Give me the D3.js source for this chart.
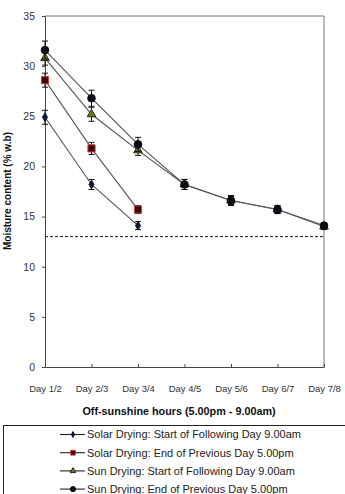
<!DOCTYPE html>
<html>
<head>
<meta charset="utf-8">
<script src="https://d3js.org/d3.v7.min.js"></script>
<style>
  body { margin: 0; background: #fff; }
  text { font-family: "Liberation Sans", Arial, sans-serif; }
</style>
</head>
<body>
<div id="chart"></div>
<script>
// Data
var categories = ["Day 1/2", "Day 2/3", "Day 3/4", "Day 4/5", "Day 5/6", "Day 6/7", "Day 7/8"];
var solarStart = [24.9, 18.2, 14.1];
var solarStartErr = [0.7, 0.5, 0.4];
var solarEnd = [28.6, 21.8, 15.7];
var solarEndErr = [0.7, 0.6, 0.4];
var sunStart = [30.8, 25.2, 21.6, 18.2, 16.6, 15.7, 14.0];
var sunStartErr = [0.7, 0.7, 0.5, 0.5, 0.4, 0.4, 0.3];
var sunEnd = [31.6, 26.8, 22.2, 18.2, 16.6, 15.7, 14.1];
var sunEndErr = [0.9, 0.8, 0.7, 0.5, 0.5, 0.4, 0.3];
var threshold = 13;
var yTicks = [0, 5, 10, 15, 20, 25, 30, 35];
var seriesNames = [
  "Solar Drying: Start of Following Day 9.00am",
  "Solar Drying: End of Previous Day 5.00pm",
  "Sun Drying: Start of Following Day 9.00am",
  "Sun Drying: End of Previous Day 5.00pm"
];

var width = 345, height = 494;
var margin = { top: 16, right: 21, bottom: 127, left: 45 };
var w = width - margin.left - margin.right,
    h = height - margin.top - margin.bottom;

var svg = d3.select("#chart")
  .append("svg")
    .attr("width", width)
    .attr("height", height);

var g = svg.append("g")
  .attr("transform", "translate(" + margin.left + "," + margin.top + ")");

var x = d3.scalePoint()
  .domain(categories)
  .range([0, w]);

var y = d3.scaleLinear()
  .domain([0, 35])
  .range([h, 0]);

// plot area border (top and right)
g.append("path")
  .attr("d", "M0,0H" + w + "V" + h)
  .attr("fill", "none")
  .attr("stroke", "#777")
  .attr("stroke-width", 1);

// Y axis
var yAxis = g.append("g")
  .call(d3.axisLeft(y).tickValues(yTicks).tickSize(3).tickPadding(7));
yAxis.select(".domain").attr("stroke", "#444");
yAxis.selectAll(".tick line").attr("stroke", "#444");
yAxis.selectAll("text").attr("font-size", "10.5px").attr("fill", "#333")
  .style("font-family", "Liberation Sans, Arial, sans-serif");

// X axis
var xAxis = g.append("g")
  .attr("transform", "translate(0," + h + ")")
  .call(d3.axisBottom(x).tickSize(-3).tickPadding(18).tickSizeOuter(0));
xAxis.select(".domain").attr("stroke", "#444");
xAxis.selectAll(".tick line").attr("stroke", "#444");
xAxis.selectAll("text").attr("font-size", "9.5px").attr("fill", "#333")
  .style("font-family", "Liberation Sans Narrow, Liberation Sans, Arial, sans-serif");

// dashed threshold line
g.append("line")
  .attr("x1", 0).attr("x2", w)
  .attr("y1", y(threshold)).attr("y2", y(threshold))
  .attr("stroke", "#111")
  .attr("stroke-dasharray", "3,2")
  .attr("stroke-width", 1);

// axis titles
svg.append("text")
  .attr("x", 179).attr("y", 415)
  .attr("text-anchor", "middle")
  .attr("font-size", "10.8px")
  .attr("font-weight", "bold")
  .attr("fill", "#111")
  .text("Off-sunshine hours (5.00pm - 9.00am)");

svg.append("text")
  .attr("transform", "translate(11,191) rotate(-90)")
  .attr("text-anchor", "middle")
  .attr("font-size", "10px")
  .attr("font-weight", "bold")
  .attr("fill", "#111")
  .text("Moisture content (% w.b)");

// series table built from the arrays
var series = [
  { name: seriesNames[0], values: solarStart, errs: solarStartErr, shape: d3.symbolDiamond, size: 22, fill: "#0d1a33", stroke: "#0d1a33" },
  { name: seriesNames[1], values: solarEnd, errs: solarEndErr, shape: d3.symbolSquare, size: 52, fill: "#3a0a0a", stroke: "#d04040" },
  { name: seriesNames[2], values: sunStart, errs: sunStartErr, shape: d3.symbolTriangle, size: 32, fill: "#6b7a1f", stroke: "#2a2a10" },
  { name: seriesNames[3], values: sunEnd, errs: sunEndErr, shape: d3.symbolCircle, size: 46, fill: "#0a0a14", stroke: "#0a0a14" }
];

var line = d3.line()
  .x(function(d) { return x(d.cat); })
  .y(function(d) { return y(d.v); });

series.forEach(function(s) {
  var pts = s.values.map(function(v, i) { return { cat: categories[i], v: v, e: s.errs[i] }; });

  g.append("path")
    .datum(pts)
    .attr("d", line)
    .attr("fill", "none")
    .attr("stroke", "#555")
    .attr("stroke-width", 1.1);

  var eb = g.append("g").selectAll("g")
    .data(pts)
    .enter().append("g")
    .attr("stroke", "#111")
    .attr("stroke-width", 1);
  eb.append("line")
    .attr("x1", function(d) { return x(d.cat); })
    .attr("x2", function(d) { return x(d.cat); })
    .attr("y1", function(d) { return y(d.v - d.e); })
    .attr("y2", function(d) { return y(d.v + d.e); });
  eb.append("line")
    .attr("x1", function(d) { return x(d.cat) - 3; })
    .attr("x2", function(d) { return x(d.cat) + 3; })
    .attr("y1", function(d) { return y(d.v + d.e); })
    .attr("y2", function(d) { return y(d.v + d.e); });
  eb.append("line")
    .attr("x1", function(d) { return x(d.cat) - 3; })
    .attr("x2", function(d) { return x(d.cat) + 3; })
    .attr("y1", function(d) { return y(d.v - d.e); })
    .attr("y2", function(d) { return y(d.v - d.e); });

  g.append("g").selectAll("path")
    .data(pts)
    .enter().append("path")
    .attr("transform", function(d) { return "translate(" + x(d.cat) + "," + y(d.v) + ")"; })
    .attr("d", d3.symbol().type(s.shape).size(s.size))
    .attr("fill", s.fill)
    .attr("stroke", s.stroke)
    .attr("stroke-width", 1);
});

// legend
var legend = svg.append("g");
legend.append("rect")
  .attr("x", 3.5).attr("y", 425.5)
  .attr("width", 360).attr("height", 90)
  .attr("fill", "#fff")
  .attr("stroke", "#222")
  .attr("stroke-width", 1);

var items = legend.selectAll("g.item")
  .data(series)
  .enter().append("g")
  .attr("class", "item")
  .attr("transform", function(d, i) { return "translate(0," + (434.5 + i * 18.2) + ")"; });

items.append("line")
  .attr("x1", 60).attr("x2", 85)
  .attr("stroke", "#222")
  .attr("stroke-width", 1.1);
items.append("path")
  .attr("transform", "translate(73,0)")
  .attr("d", function(d) { return d3.symbol().type(d.shape).size(d.size * 0.45)(); })
  .attr("fill", function(d) { return d.fill; })
  .attr("stroke", function(d) { return d.stroke; });
items.append("text")
  .attr("x", 87)
  .attr("dy", "0.35em")
  .attr("font-size", "11px")
  .attr("fill", "#222")
  .text(function(d) { return d.name; });
</script>
</body>
</html>
